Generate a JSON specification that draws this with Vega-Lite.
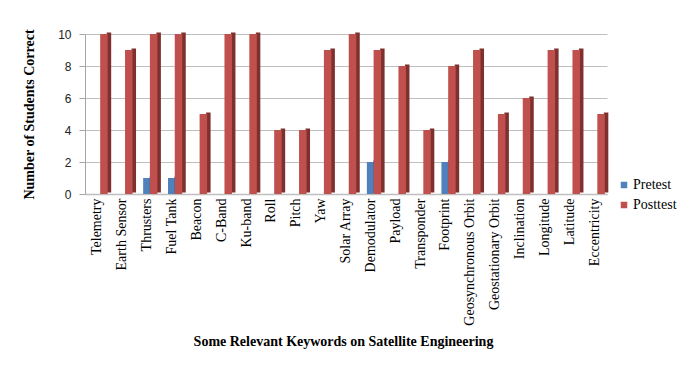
{
  "$schema": "https://vega.github.io/schema/vega-lite/v6.json",
  "width": 532,
  "height": 160,
  "autosize": {"type": "none"},
  "padding": {"left": 85, "top": 34, "right": 79, "bottom": 181},
  "background": "white",
  "config": {
    "view": {"stroke": null},
    "font": "Liberation Serif",
    "style": {"guide-label": {"font": "Liberation Serif"}},
    "legend": {"labelFont": "Liberation Serif", "labelFontSize": 14, "labelColor": "black"}
  },
  "data": {
    "values": [
      {"keyword": "Telemetry", "test": "Pretest", "correct": 0},
      {"keyword": "Telemetry", "test": "Posttest", "correct": 10},
      {"keyword": "Earth Sensor", "test": "Pretest", "correct": 0},
      {"keyword": "Earth Sensor", "test": "Posttest", "correct": 9},
      {"keyword": "Thrusters", "test": "Pretest", "correct": 1},
      {"keyword": "Thrusters", "test": "Posttest", "correct": 10},
      {"keyword": "Fuel Tank", "test": "Pretest", "correct": 1},
      {"keyword": "Fuel Tank", "test": "Posttest", "correct": 10},
      {"keyword": "Beacon", "test": "Pretest", "correct": 0},
      {"keyword": "Beacon", "test": "Posttest", "correct": 5},
      {"keyword": "C-Band", "test": "Pretest", "correct": 0},
      {"keyword": "C-Band", "test": "Posttest", "correct": 10},
      {"keyword": "Ku-band", "test": "Pretest", "correct": 0},
      {"keyword": "Ku-band", "test": "Posttest", "correct": 10},
      {"keyword": "Roll", "test": "Pretest", "correct": 0},
      {"keyword": "Roll", "test": "Posttest", "correct": 4},
      {"keyword": "Pitch", "test": "Pretest", "correct": 0},
      {"keyword": "Pitch", "test": "Posttest", "correct": 4},
      {"keyword": "Yaw", "test": "Pretest", "correct": 0},
      {"keyword": "Yaw", "test": "Posttest", "correct": 9},
      {"keyword": "Solar Array", "test": "Pretest", "correct": 0},
      {"keyword": "Solar Array", "test": "Posttest", "correct": 10},
      {"keyword": "Demodulator", "test": "Pretest", "correct": 2},
      {"keyword": "Demodulator", "test": "Posttest", "correct": 9},
      {"keyword": "Payload", "test": "Pretest", "correct": 0},
      {"keyword": "Payload", "test": "Posttest", "correct": 8},
      {"keyword": "Transponder", "test": "Pretest", "correct": 0},
      {"keyword": "Transponder", "test": "Posttest", "correct": 4},
      {"keyword": "Footprint", "test": "Pretest", "correct": 2},
      {"keyword": "Footprint", "test": "Posttest", "correct": 8},
      {"keyword": "Geosynchronous Orbit", "test": "Pretest", "correct": 0},
      {"keyword": "Geosynchronous Orbit", "test": "Posttest", "correct": 9},
      {"keyword": "Geostationary Orbit", "test": "Pretest", "correct": 0},
      {"keyword": "Geostationary Orbit", "test": "Posttest", "correct": 5},
      {"keyword": "Inclination", "test": "Pretest", "correct": 0},
      {"keyword": "Inclination", "test": "Posttest", "correct": 6},
      {"keyword": "Longitude", "test": "Pretest", "correct": 0},
      {"keyword": "Longitude", "test": "Posttest", "correct": 9},
      {"keyword": "Latitude", "test": "Pretest", "correct": 0},
      {"keyword": "Latitude", "test": "Posttest", "correct": 9},
      {"keyword": "Eccentricity", "test": "Pretest", "correct": 0},
      {"keyword": "Eccentricity", "test": "Posttest", "correct": 5}
    ]
  },
  "encoding": {
    "x": {
      "field": "keyword",
      "type": "nominal",
      "sort": null,
      "scale": {"paddingInner": 0.38, "paddingOuter": 0.19, "range": [0, 522]},
      "axis": {
        "title": "Some Relevant Keywords on Satellite Engineering",
        "titleFont": "Liberation Serif",
        "titleFontSize": 14,
        "titleFontWeight": "bold",
        "titleColor": "black",
        "titlePadding": 9,
        "titleX": 258,
        "labelFont": "Liberation Serif",
        "labelFontSize": 14,
        "labelColor": "black",
        "labelAngle": -90,
        "labelPadding": 4,
        "ticks": false,
        "domainColor": "#BFBFBF",
        "domainWidth": 1.5
      }
    },
    "y": {
      "field": "correct",
      "type": "quantitative",
      "scale": {"domain": [0, 10]},
      "axis": {
        "title": "Number of Students Correct",
        "titleFont": "Liberation Serif",
        "titleFontSize": 14,
        "titleFontWeight": "bold",
        "titleColor": "black",
        "titlePadding": 21,
        "values": [0, 2, 4, 6, 8, 10],
        "labelFont": "Liberation Sans",
        "labelFontSize": 12,
        "labelColor": "#222222",
        "labelPadding": 8,
        "tickColor": "#A6A6A6",
        "tickSize": 6,
        "domainColor": "#A6A6A6",
        "grid": true,
        "gridColor": "#BFBFBF",
        "gridWidth": 1.2
      }
    },
    "color": {
      "field": "test",
      "type": "nominal",
      "sort": ["Pretest", "Posttest"],
      "scale": {"domain": ["Pretest", "Posttest"], "range": ["#4F81BD", "#C0504D"]},
      "legend": {
        "title": null,
        "orient": "none",
        "legendX": 532,
        "legendY": 144,
        "symbolType": "square",
        "symbolSize": 42,
        "symbolStrokeWidth": 0,
        "labelFont": "Liberation Serif",
        "labelFontSize": 14,
        "labelColor": "black",
        "labelOffset": 2,
        "rowPadding": 6
      }
    }
  },
  "layer": [
    {
      "transform": [{"filter": "datum.test === 'Pretest'"}],
      "mark": {"type": "bar", "width": 7, "xOffset": -0.5}
    },
    {
      "transform": [{"filter": "datum.test === 'Pretest'"}],
      "mark": {"type": "bar", "width": 3, "xOffset": 4, "yOffset": -1.5},
      "encoding": {"color": {"value": "#385D8A"}}
    },
    {
      "transform": [{"filter": "datum.test === 'Posttest'"}],
      "mark": {"type": "bar", "width": 4.5, "xOffset": 11.5, "yOffset": -1.5},
      "encoding": {"color": {"value": "#7E302E"}}
    },
    {
      "transform": [{"filter": "datum.test === 'Posttest'"}],
      "mark": {"type": "bar", "width": 7.5, "xOffset": 6.5}
    }
  ]
}
